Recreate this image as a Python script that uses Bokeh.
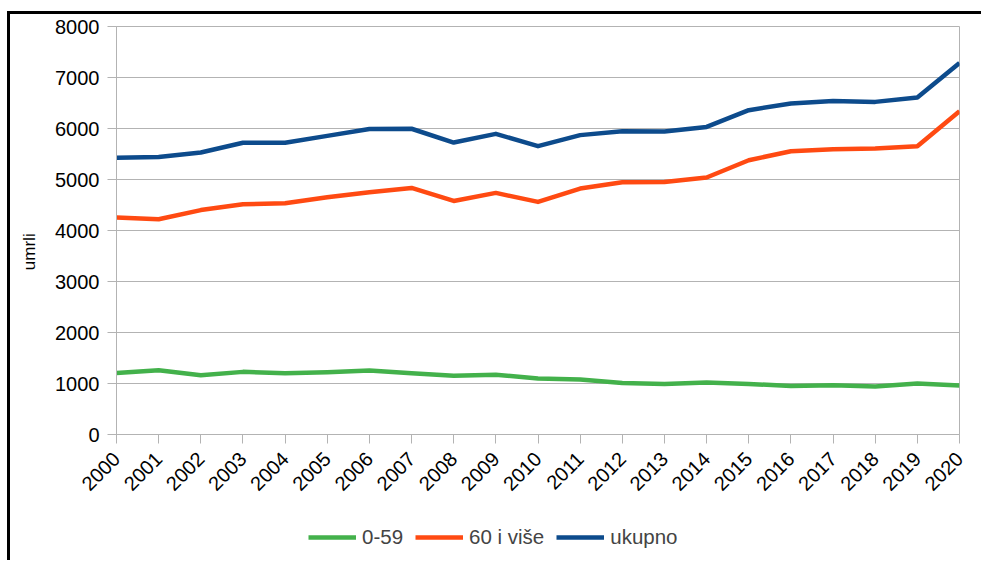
import math
from bokeh.plotting import figure
from bokeh.layouts import column
from bokeh.models import Range1d, FixedTicker, Legend, LegendItem
from bokeh.embed import file_html
from bokeh.resources import INLINE

years = list(range(2000, 2021))
year_labels = [str(y) for y in years]
age_0_59 = [1208, 1261, 1163, 1228, 1202, 1222, 1255, 1200, 1150, 1170, 1100, 1080,
            1012, 992, 1020, 992, 953, 967, 940, 1000, 961]
age_60_plus = [4255, 4220, 4400, 4515, 4535, 4650, 4750, 4835, 4580, 4737, 4561, 4823,
               4947, 4953, 5039, 5378, 5555, 5594, 5608, 5653, 6339]
total = [5425, 5440, 5530, 5720, 5720, 5855, 5990, 5995, 5725, 5895, 5653, 5870,
         5947, 5940, 6031, 6359, 6490, 6541, 6522, 6608, 7286]
y_ticks = [0, 1000, 2000, 3000, 4000, 5000, 6000, 7000, 8000]
series_names = ["0-59", "60 i više", "ukupno"]
colors = ["#43b14b", "#ff4a12", "#0d4b8c"]
series = [age_0_59, age_60_plus, total]

FONT = "Liberation Sans"

p = figure(width=971, height=491, output_backend="svg", toolbar_location=None,
           x_range=Range1d(years[0], years[-1]), y_range=Range1d(0, 8000),
           min_border_left=106, min_border_right=22, min_border_top=12,
           min_border_bottom=71)
p.outline_line_color = "#b3b3b3"
p.outline_line_width = 1

for vals, c in zip(series, colors):
    p.line(years, vals, line_color=c, line_width=4.5, line_join="round")

p.xaxis.ticker = FixedTicker(ticks=years)
p.xaxis.major_label_overrides = {y: l for y, l in zip(years, year_labels)}
p.xaxis.major_label_orientation = math.pi / 4
p.yaxis.ticker = FixedTicker(ticks=y_ticks)
for ax in (p.xaxis, p.yaxis):
    ax.axis_line_color = "#b3b3b3"
    ax.major_tick_line_color = "#b3b3b3"
    ax.minor_tick_line_color = None
    ax.major_tick_in = 0
    ax.major_tick_out = 9
    ax.major_label_text_font = FONT
    ax.major_label_text_font_size = "20px"
    ax.major_label_text_color = "black"
p.xaxis.major_label_standoff = 12
p.yaxis.major_label_standoff = 8
p.yaxis.axis_label = "umrli" + "\u00a0" * 9
p.yaxis.axis_label_text_font = FONT
p.yaxis.axis_label_text_font_size = "17px"
p.yaxis.axis_label_text_font_style = "normal"
p.yaxis.axis_label_text_color = "black"
p.yaxis.axis_label_standoff = 13

p.xgrid.grid_line_color = None
p.ygrid.grid_line_color = "#b3b3b3"
p.ygrid.grid_line_width = 1

# legend strip (its lines use the same data but lie outside its visible range)
lf = figure(width=971, height=55, output_backend="svg", toolbar_location=None,
            x_axis_type=None, y_axis_type=None, x_range=Range1d(0, 1), y_range=Range1d(0, 1),
            min_border_left=0, min_border_right=0, min_border_top=0, min_border_bottom=0)
lf.outline_line_color = None
lf.background_fill_color = None
lf.border_fill_color = None
legend_lines = [lf.line(years, vals, line_color=c, line_width=4.5) for vals, c in zip(series, colors)]
legend = Legend(items=[LegendItem(label=n, renderers=[r]) for n, r in zip(series_names, legend_lines)],
                orientation="horizontal", location=(192, 11),
                label_text_font=FONT, label_text_font_size="20.5px",
                glyph_width=48, glyph_height=22, label_height=22,
                label_standoff=6, spacing=12, padding=0, margin=0,
                border_line_color=None, background_fill_alpha=0)
lf.add_layout(legend)

layout = column(p, lf, spacing=0)
layout.styles = {"margin-top": "11px", "margin-left": "7px", "border-left": "3px solid black",
                 "border-top": "3px solid black"}

open("out.html", "w").write(file_html(layout, INLINE))
